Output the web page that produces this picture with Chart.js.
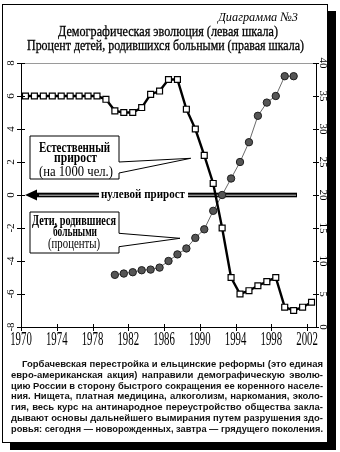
<!DOCTYPE html>
<html lang="ru">
<head>
<meta charset="utf-8">
<title>Диаграмма №3</title>
<script src="https://cdn.jsdelivr.net/npm/chart.js@4.4.1/dist/chart.umd.min.js"></script>
<style>
  html, body { margin: 0; padding: 0; background: #fff; width: 340px; height: 452px; overflow: hidden; }
  #frame { position: absolute; left: 2px; top: 4px; width: 326px; height: 439px; box-sizing: border-box;
           border: 1px solid #000; box-shadow: 8px 7px 0 #000; background: #fff; }
  #c { position: absolute; left: 0; top: 0; }
  .fit { position: absolute; white-space: nowrap; font-family: 'Liberation Serif', 'Times New Roman', serif;
         color: #000; line-height: 16px; transform-origin: 0 50%; -webkit-text-stroke: 0.3px #000; }
  #para { position: absolute; left: 11px; top: 359px; width: 312px;
          font: bold 9.5px/10.75px 'Liberation Sans', Arial, sans-serif; color: #111; }
  #para div { white-space: nowrap; height: 10.75px; }
</style>
</head>
<body>
<div id="frame"></div>
<canvas id="c" width="340" height="452"></canvas>
<div class="fit" id="t0" style="font-style:italic;font-size:13px;-webkit-text-stroke:0">Диаграмма №3</div>
<div class="fit" id="t1" style="font-size:14px">Демографическая эволюция (левая шкала)</div>
<div class="fit" id="t2" style="font-size:14px">Процент детей, родившихся больными (правая шкала)</div>
<div id="para"></div>
<script>
// Years of observation
const years = [1970, 1971, 1972, 1973, 1974, 1975, 1976, 1977, 1978, 1979, 1980,
               1981, 1982, 1983, 1984, 1985, 1986, 1987, 1988, 1989, 1990, 1991,
               1992, 1993, 1994, 1995, 1996, 1997, 1998, 1999, 2000, 2001, 2002];
// Natural increase per 1000 people (left scale)
const growthPer1000 = [6.0, 6.0, 6.0, 6.0, 6.0, 6.0, 6.0, 6.0, 6.0, 5.8, 5.1,
                       5.0, 5.0, 5.3, 6.1, 6.3, 7.0, 7.0, 5.2, 4.0, 2.4, 0.7,
                       -2.0, -5.0, -6.0, -5.8, -5.5, -5.25, -5.0, -6.8, -7.0, -6.8, -6.5];
// Share of children born ill, percent (right scale)
const sickYears = [1980, 1981, 1982, 1983, 1984, 1985, 1986, 1987, 1988, 1989, 1990,
                   1991, 1992, 1993, 1994, 1995, 1996, 1997, 1998, 1999, 2000];
const sickPercent = [7.9, 8.1, 8.3, 8.6, 8.7, 9.0, 10.0, 11.0, 11.9, 13.5, 14.8,
                     17.6, 20.0, 22.5, 25.0, 28.0, 32.0, 34.0, 35.0, 38.0, 38.0];
// Axis ticks
const yearTicks = [1970, 1974, 1978, 1982, 1986, 1990, 1994, 1998, 2002];
const leftTicks = [-8, -6, -4, -2, 0, 2, 4, 6, 8];
const rightTicks = [0, 5, 10, 15, 20, 25, 30, 35, 40];

const paragraphLines = [
  'Горбачевская перестройка и ельцинские реформы (это единая',
  'евро-американская акция) направили демографическую эволю-',
  'цию России в сторону быстрого сокращения ее коренного населе-',
  'ния. Нищета, платная медицина, алкоголизм, наркомания, эколо-',
  'гия, весь курс на антинародное переустройство общества закла-',
  'дывают основы дальнейшего вымирания путем разрушения здо-',
  'ровья: сегодня — новорожденных, завтра — грядущего поколения.'
];

// yearly values are plotted at mid-year
const midYear = yr => yr + 0.5;

const SERIF = "'Liberation Serif', 'Times New Roman', serif";

function drawText(ctx, text, x, y, font, opts) {
  const o = Object.assign({ width: null, sx: 1, rot: 0, align: 'center', base: 'alphabetic' }, opts || {});
  ctx.save();
  ctx.font = font;
  ctx.fillStyle = '#000';
  ctx.textAlign = o.align;
  ctx.textBaseline = o.base;
  let sx = o.sx;
  if (o.width) sx = o.width / ctx.measureText(text).width;
  ctx.translate(x, y);
  if (o.rot) ctx.rotate(o.rot);
  ctx.scale(sx, 1);
  ctx.fillText(text, 0, 0);
  ctx.restore();
}

function callout(ctx, box, tip, tailTop, tailBottom) {
  ctx.save();
  ctx.beginPath();
  ctx.moveTo(box.l, box.t);
  ctx.lineTo(box.r, box.t);
  ctx.lineTo(box.r, tailTop);
  ctx.lineTo(tip.x, tip.y);
  ctx.lineTo(box.r, tailBottom);
  ctx.lineTo(box.r, box.b);
  ctx.lineTo(box.l, box.b);
  ctx.closePath();
  ctx.fillStyle = '#fff';
  ctx.fill();
  ctx.strokeStyle = '#000';
  ctx.lineWidth = 1;
  ctx.stroke();
  ctx.restore();
}

const decor = {
  id: 'decor',
  beforeDatasetsDraw(chart) {
    const { ctx, chartArea: a, scales: { x, y } } = chart;
    ctx.save();
    // upper frame line of the plot
    ctx.strokeStyle = '#9a9a9a';
    ctx.lineWidth = 1;
    ctx.beginPath();
    ctx.moveTo(a.left, a.top + 0.5);
    ctx.lineTo(a.right, a.top + 0.5);
    ctx.stroke();
    // axis lines
    ctx.strokeStyle = '#000';
    ctx.beginPath();
    ctx.moveTo(a.left + 0.5, a.top);
    ctx.lineTo(a.left + 0.5, a.bottom + 1);
    ctx.moveTo(a.left, a.bottom + 0.5);
    ctx.lineTo(a.right + 1, a.bottom + 0.5);
    ctx.moveTo(a.right + 0.5, a.top);
    ctx.lineTo(a.right + 0.5, a.bottom + 1);
    ctx.stroke();

    // zero-growth arrow
    const y0 = y.getPixelForValue(0);
    const tipX = a.left + 4, headEnd = tipX + 12, tailX = a.right - 19;
    ctx.fillStyle = '#000';
    ctx.fillRect(headEnd - 1, y0 - 2.3, tailX - headEnd + 1, 4.6);
    ctx.strokeStyle = '#fff';
    ctx.lineWidth = 0.8;
    ctx.beginPath();
    ctx.moveTo(headEnd + 2, y0 + 0.2);
    ctx.lineTo(tailX - 1, y0 + 0.2);
    ctx.stroke();
    ctx.beginPath();
    ctx.moveTo(tipX, y0);
    ctx.lineTo(headEnd, y0 - 5.5);
    ctx.lineTo(headEnd, y0 + 5.5);
    ctx.closePath();
    ctx.fill();
    ctx.fillStyle = '#fff';
    ctx.fillRect(a.left + 78, y0 - 7, 89, 13);
    drawText(ctx, 'нулевой прирост', a.left + 122, y0 + 2.7, 'bold 12px ' + SERIF, { width: 84 });

    // callout boxes
    callout(ctx, { l: a.left + 9, t: 136, r: a.left + 98, b: 179 }, { x: 190.7, y: 158.3 }, 162, 173);
    drawText(ctx, 'Естественный', a.left + 53.5, 151.7, 'bold 15px ' + SERIF, { width: 71 });
    drawText(ctx, 'прирост', a.left + 54.5, 161.5, 'bold 15px ' + SERIF, { width: 43 });
    drawText(ctx, '(на 1000 чел.)', a.left + 55, 175.5, '14px ' + SERIF, { width: 74 });

    callout(ctx, { l: a.left + 9, t: 212, r: a.left + 98, b: 253 }, { x: 180, y: 238.3 }, 233.3, 246.7);
    drawText(ctx, 'Дети, родившиеся', a.left + 53, 224.5, 'bold 14px ' + SERIF, { width: 84 });
    drawText(ctx, 'больными', a.left + 54, 236, 'bold 14px ' + SERIF, { width: 44 });
    drawText(ctx, '(проценты)', a.left + 53, 247.5, '14px ' + SERIF, { width: 52 });
    ctx.restore();
  },
  afterDraw(chart) {
    const { ctx, chartArea: a, scales: { x, y, y2 } } = chart;
    ctx.save();
    ctx.strokeStyle = '#000';
    ctx.lineWidth = 1;
    ctx.beginPath();
    x.ticks.forEach(t => {
      const px = Math.round(x.getPixelForValue(t.value)) + 0.5;
      ctx.moveTo(px, a.bottom - 3);
      ctx.lineTo(px, a.bottom + 4);
    });
    y.ticks.forEach(t => {
      const py = Math.round(y.getPixelForValue(t.value)) + 0.5;
      ctx.moveTo(a.left - 4, py);
      ctx.lineTo(a.left + 4, py);
    });
    y2.ticks.forEach(t => {
      const py = Math.round(y2.getPixelForValue(t.value)) + 0.5;
      ctx.moveTo(a.right - 3, py);
      ctx.lineTo(a.right + 3, py);
    });
    ctx.stroke();
    ctx.restore();

    x.ticks.forEach(t => {
      drawText(ctx, t.label, x.getPixelForValue(t.value), a.bottom + 13, '18px ' + SERIF, { sx: 0.6, base: 'middle' });
    });
    y.ticks.forEach(t => {
      drawText(ctx, t.label, 11, y.getPixelForValue(t.value), '11px ' + SERIF, { rot: -Math.PI / 2, base: 'middle' });
    });
    y2.ticks.forEach(t => {
      drawText(ctx, t.label, a.right + 7, y2.getPixelForValue(t.value), '11px ' + SERIF, { rot: Math.PI / 2, base: 'middle' });
    });
  }
};

const fixedTicks = list => scale => { scale.ticks = list.map(v => ({ value: v })); };
const plainLabel = v => String(v);

new Chart(document.getElementById('c').getContext('2d'), {
  type: 'line',
  data: {
    datasets: [
      {
        label: 'Естественный прирост (на 1000 чел.)',
        data: years.map((yr, i) => ({ x: midYear(yr), y: growthPer1000[i] })),
        yAxisID: 'y',
        borderColor: '#000',
        borderWidth: 2.4,
        pointStyle: 'rect',
        pointRadius: 4.2,
        pointBackgroundColor: '#fff',
        pointBorderColor: '#000',
        pointBorderWidth: 1.2,
        tension: 0,
        order: 1
      },
      {
        label: 'Дети, родившиеся больными (проценты)',
        data: sickYears.map((yr, i) => ({ x: midYear(yr), y: sickPercent[i] })),
        yAxisID: 'y2',
        borderColor: '#6a6a6a',
        borderWidth: 1,
        pointStyle: 'circle',
        pointRadius: 3.7,
        pointBackgroundColor: '#555',
        pointBorderColor: '#1e1e1e',
        pointBorderWidth: 1,
        tension: 0,
        order: 2
      }
    ]
  },
  options: {
    responsive: false,
    animation: false,
    devicePixelRatio: 1,
    layout: { padding: { top: 63, bottom: 100, left: 0, right: 0 } },
    plugins: { legend: { display: false }, tooltip: { enabled: false } },
    scales: {
      x: {
        type: 'linear', min: 1970, max: 2003,
        grid: { display: false }, border: { display: false },
        ticks: { display: false, callback: plainLabel },
        afterBuildTicks: fixedTicks(yearTicks),
        afterFit: s => { s.height = 25; }
      },
      y: {
        position: 'left', min: -8, max: 8,
        grid: { display: false }, border: { display: false },
        ticks: { display: false, callback: plainLabel },
        afterBuildTicks: fixedTicks(leftTicks),
        afterFit: s => { s.width = 21; }
      },
      y2: {
        position: 'right', min: 0, max: 40,
        grid: { display: false }, border: { display: false },
        ticks: { display: false, callback: plainLabel },
        afterBuildTicks: fixedTicks(rightTicks),
        afterFit: s => { s.width = 24; }
      }
    }
  },
  plugins: [decor]
});

// headings, condensed to their column widths
function fitLine(id, left, width, centerY) {
  const el = document.getElementById(id);
  const w = el.getBoundingClientRect().width;
  el.style.left = left + 'px';
  el.style.top = (centerY - 8) + 'px';
  el.style.transform = 'scaleX(' + (width / w) + ')';
}
fitLine('t0', 218, 80, 17);
fitLine('t1', 58, 220, 32);
fitLine('t2', 27, 277, 45.5);

// justified caption paragraph
const para = document.getElementById('para');
const paraWidth = 312, indent = 11;
paragraphLines.forEach((text, i) => {
  const d = document.createElement('div');
  const s = document.createElement('span');
  s.textContent = text;
  d.appendChild(s);
  para.appendChild(d);
  const avail = paraWidth - (i === 0 ? indent : 0);
  if (i === 0) d.style.paddingLeft = indent + 'px';
  const w = s.getBoundingClientRect().width;
  if (w > avail) {
    s.style.display = 'inline-block';
    s.style.transformOrigin = '0 0';
    s.style.transform = 'scaleX(' + (avail / w) + ')';
  } else {
    d.style.textAlign = 'justify';
    d.style.textAlignLast = 'justify';
  }
});
</script>
</body>
</html>
